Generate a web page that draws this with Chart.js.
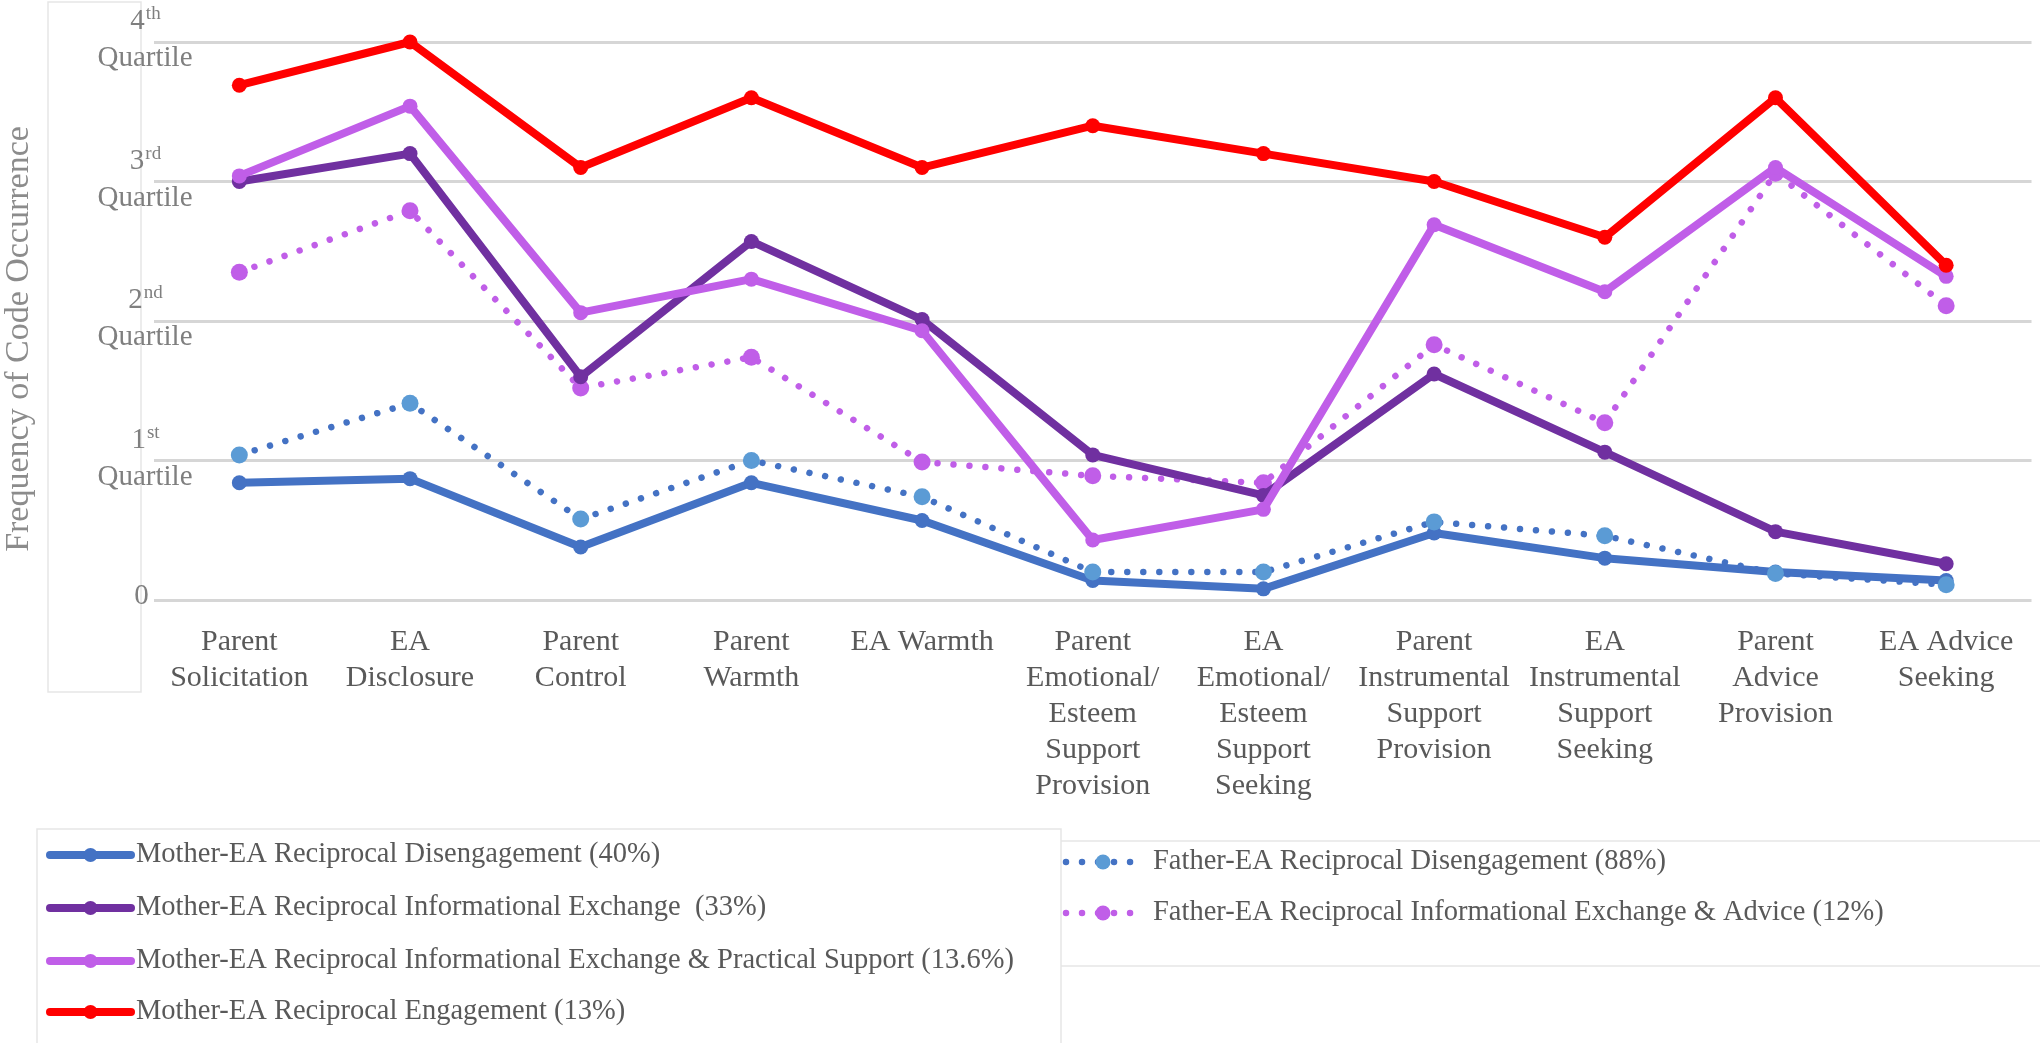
<!DOCTYPE html>
<html>
<head>
<meta charset="utf-8">
<script src="https://cdn.jsdelivr.net/npm/chart.js@4.4.1/dist/chart.umd.min.js"></script>
<style>
  html, body { margin: 0; padding: 0; background: #fff; }
  #wrap { width: 2040px; height: 1043px; }
</style>
</head>
<body>
<div id="wrap"><canvas id="chart" width="2040" height="1043"></canvas></div>
<script>
// categories (multi-line x labels)
const categories = [
  ["Parent", "Solicitation"],
  ["EA", "Disclosure"],
  ["Parent", "Control"],
  ["Parent", "Warmth"],
  ["EA Warmth"],
  ["Parent", "Emotional/", "Esteem", "Support", "Provision"],
  ["EA", "Emotional/", "Esteem", "Support", "Seeking"],
  ["Parent", "Instrumental", "Support", "Provision"],
  ["EA", "Instrumental", "Support", "Seeking"],
  ["Parent", "Advice", "Provision"],
  ["EA Advice", "Seeking"]
];

// series values
const motherDisengagement = [0.84, 0.87, 0.38, 0.84, 0.57, 0.14, 0.08, 0.48, 0.30, 0.20, 0.14];
const motherInfoExchange = [3.00, 3.20, 1.60, 2.57, 2.01, 1.04, 0.75, 1.62, 1.06, 0.49, 0.26];
const motherInfoPractical = [3.04, 3.54, 2.06, 2.30, 1.93, 0.43, 0.65, 2.69, 2.21, 3.10, 2.32];
const motherEngagement = [3.69, 4.00, 3.10, 3.60, 3.10, 3.40, 3.20, 3.00, 2.60, 3.60, 2.40];
const fatherDisengagement = [1.04, 1.41, 0.58, 1.00, 0.74, 0.20, 0.20, 0.56, 0.46, 0.19, 0.11];
const fatherInfoAdvice = [2.35, 2.79, 1.52, 1.74, 0.99, 0.89, 0.84, 1.83, 1.27, 3.06, 2.11];

const seriesNames = [
  "Mother-EA Reciprocal Disengagement (40%)",
  "Mother-EA Reciprocal Informational Exchange  (33%)",
  "Mother-EA Reciprocal Informational Exchange & Practical Support (13.6%)",
  "Mother-EA Reciprocal Engagement (13%)",
  "Father-EA Reciprocal Disengagement (88%)",
  "Father-EA Reciprocal Informational Exchange & Advice (12%)"
];

// y tick labels
const tickValues = [0, 1, 2, 3, 4];
const tickOrdinals = ["", "st", "nd", "rd", "th"];
const tickCaptions = ["", "Quartile", "Quartile", "Quartile", "Quartile"];
const yTitle = "Frequency of Code Occurrence";

const SERIF = '"Liberation Serif", "Times New Roman", serif';
Chart.defaults.font.family = SERIF;

const solidSeries = (label, data, color, order) => ({
  label,
  data,
  borderColor: color,
  backgroundColor: color,
  pointBackgroundColor: color,
  borderWidth: 8,
  borderJoinStyle: "round",
  pointRadius: 7.5,
  pointHoverRadius: 7.5,
  pointBorderWidth: 0,
  tension: 0,
  clip: false,
  order
});

const dottedSeries = (label, data, lineColor, markColor, order) => ({
  label,
  data,
  borderColor: lineColor,
  backgroundColor: markColor,
  pointBackgroundColor: markColor,
  borderWidth: 6.5,
  borderDash: [0.01, 16],
  borderCapStyle: "round",
  pointRadius: 8.5,
  pointHoverRadius: 8.5,
  pointBorderWidth: 0,
  tension: 0,
  clip: false,
  order
});

// legend slots: [left of sample, centre y, sample length]
const legendSlots = [
  [50, 855, 81], [50, 908, 81], [50, 961, 81], [50, 1012, 81],
  [1066, 862, 74], [1066, 913, 74]
];

const decorPlugin = {
  id: "decor",
  afterDraw(chart) {
    const { ctx } = chart;
    const yScale = chart.scales.y;
    ctx.save();

    // faint text-box frames
    ctx.strokeStyle = "#e6e6e6";
    ctx.lineWidth = 1.5;
    ctx.strokeRect(48, 2, 93, 690);
    ctx.beginPath();
    ctx.moveTo(37, 1043); ctx.lineTo(37, 829); ctx.lineTo(1061, 829); ctx.lineTo(1061, 1043);
    ctx.moveTo(1061, 841); ctx.lineTo(2040, 841);
    ctx.moveTo(1061, 966); ctx.lineTo(2040, 966);
    ctx.stroke();

    // y axis title
    ctx.save();
    ctx.translate(19, 339);
    ctx.rotate(-Math.PI / 2);
    ctx.fillStyle = "#8c8c8c";
    ctx.font = "34px " + SERIF;
    ctx.textAlign = "center";
    ctx.textBaseline = "middle";
    ctx.fillText(yTitle, 0, 0);
    ctx.restore();

    // y tick labels with superscript ordinals
    ctx.fillStyle = "#7f7f7f";
    ctx.textBaseline = "alphabetic";
    tickValues.forEach((v, i) => {
      const py = yScale.getPixelForValue(v);
      const num = String(v);
      if (!tickCaptions[i]) {
        ctx.font = "29px " + SERIF;
        ctx.textAlign = "center";
        ctx.fillText(num, 141.5, py + 3.5);
        return;
      }
      ctx.font = "29px " + SERIF;
      const w1 = ctx.measureText(num).width;
      ctx.font = "19px " + SERIF;
      const w2 = ctx.measureText(tickOrdinals[i]).width;
      const x0 = 145 - (w1 + w2) / 2;
      ctx.textAlign = "left";
      ctx.font = "29px " + SERIF;
      ctx.fillText(num, x0, py - 13);
      ctx.font = "19px " + SERIF;
      ctx.fillText(tickOrdinals[i], x0 + w1 + 1, py - 23);
      ctx.font = "29px " + SERIF;
      ctx.textAlign = "center";
      ctx.fillText(tickCaptions[i], 145, py + 24);
    });

    // legend in two columns
    ctx.textAlign = "left";
    ctx.textBaseline = "middle";
    chart.data.datasets.forEach((ds, i) => {
      const [lx, ly, len] = legendSlots[i];
      ctx.beginPath();
      ctx.setLineDash(ds.borderDash || []);
      ctx.lineCap = "round";
      ctx.strokeStyle = ds.borderColor;
      ctx.lineWidth = ds.borderDash ? ds.borderWidth : 8;
      ctx.moveTo(lx, ly);
      ctx.lineTo(lx + len, ly);
      ctx.stroke();
      ctx.setLineDash([]);
      ctx.fillStyle = ds.pointBackgroundColor;
      ctx.beginPath();
      ctx.arc(lx + len / 2, ly, ds.borderDash ? 7.5 : 7, 0, Math.PI * 2);
      ctx.fill();
      ctx.fillStyle = "#595959";
      ctx.font = "28.5px " + SERIF;
      ctx.fillText(ds.label, lx + len + (ds.borderDash ? 13 : 5), ly);
    });
    ctx.restore();
  }
};

new Chart(document.getElementById("chart").getContext("2d"), {
  type: "line",
  data: {
    labels: categories,
    datasets: [
      solidSeries(seriesNames[0], motherDisengagement, "#4472C4", 4),
      solidSeries(seriesNames[1], motherInfoExchange, "#7030A0", 2),
      solidSeries(seriesNames[2], motherInfoPractical, "#C05EE8", 1),
      solidSeries(seriesNames[3], motherEngagement, "#FF0000", 0),
      dottedSeries(seriesNames[4], fatherDisengagement, "#4472C4", "#5B9BD5", 3),
      dottedSeries(seriesNames[5], fatherInfoAdvice, "#C05EE8", "#C05EE8", 5)
    ]
  },
  options: {
    responsive: false,
    devicePixelRatio: 1,
    animation: false,
    layout: { padding: { top: 42, right: 5, left: 0, bottom: 0 } },
    plugins: {
      legend: { display: false },
      tooltip: { enabled: false }
    },
    scales: {
      x: {
        offset: true,
        grid: { display: false, offset: true },
        border: { display: false },
        afterFit: (scale) => { scale.height = 443; },
        ticks: {
          color: "#595959",
          font: { size: 30, lineHeight: 1.2 },
          padding: 16,
          maxRotation: 0,
          minRotation: 0,
          autoSkip: false
        }
      },
      y: {
        min: 0,
        max: 4,
        afterFit: (scale) => { scale.width = 154; },
        ticks: { stepSize: 1, display: false },
        grid: { color: "#d6d6d6", lineWidth: 3, drawTicks: false },
        border: { display: false }
      }
    }
  },
  plugins: [decorPlugin]
});
</script>
</body>
</html>
